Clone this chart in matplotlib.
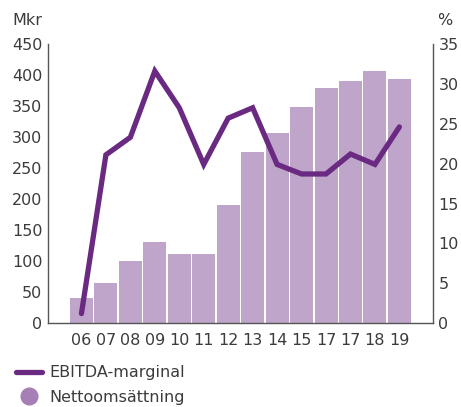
import numpy as np
import matplotlib.pyplot as plt
from matplotlib.lines import Line2D

years = ['06', '07', '08', '09', '10', '11', '12', '13', '14', '15', '17', '17', '18', '19']
sales = [40, 65, 100, 130, 112, 112, 190, 276, 306, 348, 379, 390, 406, 394]
ebitda = [1.2, 21.1, 23.3, 31.6, 27.0, 19.9, 25.7, 27.0, 19.9, 18.7, 18.7, 21.2, 19.9, 24.6]

bar_col = '#c0a5ca'
line_col = '#6b2a82'
txt_col = '#3c3c3c'

plt.rcParams['font.family'] = ['DejaVu Sans']
fig = plt.figure(figsize=(4.61, 4.07), dpi=100)
ax = fig.add_axes([0.104, 0.206, 0.835, 0.686])
x = np.arange(len(years))
ax.bar(x, sales, width=0.94, color=bar_col, zorder=1)
ax.set_xlim(-1.37, len(years) - 1 + 1.37)
ax.set_ylim(0, 450)
ax.set_yticks(range(0, 451, 50))
ax.set_xticks(x)
ax.set_xticklabels(years)

ax2 = ax.twinx()
ax2.plot(x, ebitda, color=line_col, lw=3.8, solid_capstyle='round', solid_joinstyle='miter', zorder=3)
ax2.set_ylim(0, 35)
ax2.set_yticks(range(0, 36, 5))

for a in (ax, ax2):
    a.spines['top'].set_visible(False)
    for s in ('left', 'right', 'bottom'):
        a.spines[s].set_color('#555555')
        a.spines[s].set_linewidth(1.0)
    a.tick_params(length=0, labelsize=11.5, colors=txt_col, pad=4)
ax.tick_params(axis='x', pad=7)
ax.spines['right'].set_visible(False)
ax2.spines['left'].set_visible(False)
ax2.spines['bottom'].set_visible(False)

fig.text(0.026, 0.950, 'Mkr', fontsize=11.5, color=txt_col, va='center')
fig.text(0.965, 0.950, '%', fontsize=11.5, color=txt_col, va='center', ha='center')

handles = [Line2D([], [], color=line_col, lw=3.8, solid_capstyle='round'),
           Line2D([], [], color='#a57fb5', marker='o', ls='none', markersize=12)]
fig.legend(handles, ['EBITDA-marginal', 'Nettoomsättning'], loc='upper left',
           bbox_to_anchor=(0.035, 0.102), frameon=False, fontsize=11.5,
           labelcolor=txt_col, handlelength=1.6, handletextpad=0.45,
           borderpad=0, borderaxespad=0, labelspacing=0.6)

fig.savefig('out.png', dpi=100)
